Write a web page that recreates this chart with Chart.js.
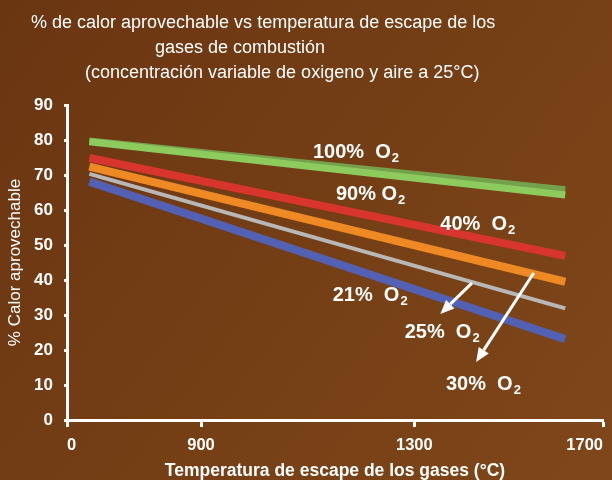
<!DOCTYPE html>
<html lang="es">
<head>
<meta charset="UTF-8">
<title>% de calor aprovechable vs temperatura</title>
<script src="https://cdn.jsdelivr.net/npm/chart.js@4"></script>
<style>
    body { margin: 0; background: #723d14; }
    #caja { width: 612px; height: 480px; }
</style>
</head>
<body>
<div id="caja"><canvas id="grafico" width="612" height="480"></canvas></div>
<script>
    // temperatura de escape (°C) en los extremos de cada recta
    const temperaturas = [150, 1620];

    // % de calor aprovechable para cada concentracion de O2
    const o2_100 = [79.7, 65.8];
    const o2_90 = [79.5, 64.3];
    const o2_40 = [74.9, 46.9];
    const o2_30 = [72.4, 39.5];
    const o2_25 = [70.3, 31.9];
    const o2_21 = [68.1, 23.1];

    const ticksX = [0, 900, 1300, 1700];
    const ticksY = [0, 10, 20, 30, 40, 50, 60, 70, 80, 90];

    const titulo = [
        '% de calor aprovechable vs temperatura de escape de los',
        'gases de combustión',
        '(concentración variable de oxigeno y aire a 25°C)'
    ];

    // el eje x del original no es lineal: cada marca tiene su propia posicion
    const posTicksX = [0, 0.25, 0.648, 1];

    function aDecimal(v) {
        for (let i = 1; i < ticksX.length; i++) {
            if (v <= ticksX[i] || i == ticksX.length - 1) {
                const t = (v - ticksX[i - 1]) / (ticksX[i] - ticksX[i - 1]);
                return posTicksX[i - 1] + t * (posTicksX[i] - posTicksX[i - 1]);
            }
        }
    }
    function desdeDecimal(d) {
        for (let i = 1; i < posTicksX.length; i++) {
            if (d <= posTicksX[i] || i == posTicksX.length - 1) {
                const t = (d - posTicksX[i - 1]) / (posTicksX[i] - posTicksX[i - 1]);
                return ticksX[i - 1] + t * (ticksX[i] - ticksX[i - 1]);
            }
        }
    }

    class EscalaTramos extends Chart.LinearScale {
        getPixelForValue(value) {
            if (value === null || value === undefined) return NaN;
            return this.getPixelForDecimal(aDecimal(value));
        }
        getValueForPixel(pixel) {
            return desdeDecimal(this.getDecimalForPixel(pixel));
        }
    }
    EscalaTramos.id = 'tramos';
    EscalaTramos.defaults = Chart.LinearScale.defaults;
    Chart.register(EscalaTramos);

    // textos sobre las rectas (en unidades de los ejes)
    const etiquetas = [
        { texto: '100%  O', x: 1110, y: 74.9 },
        { texto: '90% O', x: 1153, y: 62.9 },
        { texto: '40%  O', x: 1355, y: 54.3 },
        { texto: '21%  O', x: 1147, y: 34.1 },
        { texto: '25%  O', x: 1282, y: 23.4 },
        { texto: '30%  O', x: 1367, y: 8.6 }
    ];
    const flechas = [
        { x1: 1422, y1: 39.1, x2: 1355, y2: 30.3 },
        { x1: 1553, y1: 42.0, x2: 1431, y2: 16.6 }
    ];

    function serie(nombre, valores, color, ancho) {
        return {
            label: nombre,
            data: temperaturas.map((t, i) => ({ x: t, y: valores[i] })),
            borderColor: color,
            backgroundColor: color,
            borderWidth: ancho,
            pointRadius: 0,
            fill: false,
            tension: 0
        };
    }

    const fondo = {
        id: 'fondo',
        beforeDraw(chart) {
            const ctx = chart.ctx;
            const g = ctx.createLinearGradient(0, 0, chart.width, chart.height);
            g.addColorStop(0, '#6a3511');
            g.addColorStop(1, '#7f4719');
            ctx.save();
            ctx.fillStyle = g;
            ctx.fillRect(0, 0, chart.width, chart.height);
            ctx.restore();
        }
    };

    const textos = {
        id: 'textos',
        afterDatasetsDraw(chart) {
            const ctx = chart.ctx;
            const sx = chart.scales.x;
            const sy = chart.scales.y;
            ctx.save();
            ctx.fillStyle = '#ffffff';
            ctx.textBaseline = 'alphabetic';
            ctx.textAlign = 'left';

            // titulo
            ctx.font = '18px "Liberation Sans", Arial, sans-serif';
            ctx.fillText(titulo[0], 31, 28);
            ctx.fillText(titulo[1], 155, 53);
            ctx.fillText(titulo[2], 85, 78);

            // etiquetas con subindice
            etiquetas.forEach(function (e) {
                const px = sx.getPixelForValue(e.x);
                const py = sy.getPixelForValue(e.y);
                ctx.font = 'bold 20px "Liberation Sans", Arial, sans-serif';
                ctx.fillText(e.texto, px, py);
                const w = ctx.measureText(e.texto).width;
                ctx.font = 'bold 13px "Liberation Sans", Arial, sans-serif';
                ctx.fillText('2', px + w + 1, py + 4);
            });

            // flechas
            ctx.strokeStyle = '#ffffff';
            ctx.lineWidth = 3;
            flechas.forEach(function (f) {
                const x1 = sx.getPixelForValue(f.x1), y1 = sy.getPixelForValue(f.y1);
                const x2 = sx.getPixelForValue(f.x2), y2 = sy.getPixelForValue(f.y2);
                const ang = Math.atan2(y2 - y1, x2 - x1);
                const largo = 14, medio = 6;
                const bx = x2 - largo * Math.cos(ang), by = y2 - largo * Math.sin(ang);
                ctx.beginPath();
                ctx.moveTo(x1, y1);
                ctx.lineTo(bx, by);
                ctx.stroke();
                ctx.beginPath();
                ctx.moveTo(x2, y2);
                ctx.lineTo(bx + medio * Math.sin(ang), by - medio * Math.cos(ang));
                ctx.lineTo(bx - medio * Math.sin(ang), by + medio * Math.cos(ang));
                ctx.closePath();
                ctx.fill();
            });
            ctx.restore();
        }
    };

    const config = {
        type: 'line',
        data: {
            datasets: [
                serie('90% O2', o2_90, '#8ecb5e', 7),
                serie('100% O2', o2_100, '#74a24c', 7),
                serie('40% O2', o2_40, '#d8352c', 8),
                serie('30% O2', o2_30, '#ee8924', 8),
                serie('25% O2', o2_25, '#b8b8b8', 4),
                serie('21% O2', o2_21, '#5361b4', 8)
            ]
        },
        options: {
            responsive: false,
            animation: false,
            layout: { padding: { top: 105, left: 0, right: 5, bottom: 0 } },
            plugins: {
                legend: { display: false },
                title: { display: false },
                tooltip: { enabled: false }
            },
            scales: {
                x: {
                    type: 'tramos',
                    min: 0,
                    max: 1700,
                    afterFit: function (s) { s.height = 60; },
                    afterBuildTicks: function (s) { s.ticks = ticksX.map(v => ({ value: v })); },
                    grid: { drawOnChartArea: false, drawTicks: true, tickLength: 7, tickWidth: 3, tickColor: '#ffffff' },
                    border: { display: true, color: '#ffffff', width: 3 },
                    ticks: {
                        color: '#ffffff',
                        padding: 9,
                        align: 'inner',
                        maxRotation: 0,
                        font: { family: '"Liberation Sans", Arial', size: 16.5, weight: 'bold' },
                        callback: v => String(v)
                    },
                    title: {
                        display: true,
                        text: 'Temperatura de escape de los gases (°C)',
                        color: '#ffffff',
                        padding: { top: 0, bottom: 0 },
                        font: { family: '"Liberation Sans", Arial', size: 17.5, weight: 'bold', lineHeight: 1 }
                    }
                },
                y: {
                    min: 0,
                    max: 90,
                    afterFit: function (s) { s.width = 67; },
                    afterBuildTicks: function (s) { s.ticks = ticksY.map(v => ({ value: v })); },
                    grid: { drawOnChartArea: false, drawTicks: true, tickLength: 3, tickWidth: 3, tickColor: '#ffffff' },
                    border: { display: true, color: '#ffffff', width: 3 },
                    ticks: {
                        color: '#ffffff',
                        padding: 11,
                        font: { family: '"Liberation Sans", Arial', size: 17, weight: 'bold' }
                    },
                    title: {
                        display: true,
                        text: '% Calor aprovechable',
                        color: '#ffffff',
                        padding: { top: 5, bottom: 0 },
                        font: { family: '"Liberation Sans", Arial', size: 17 }
                    }
                }
            }
        },
        plugins: [fondo, textos]
    };

    let miGrafico = new Chart(document.getElementById('grafico'), config);
</script>
</body>
</html>
